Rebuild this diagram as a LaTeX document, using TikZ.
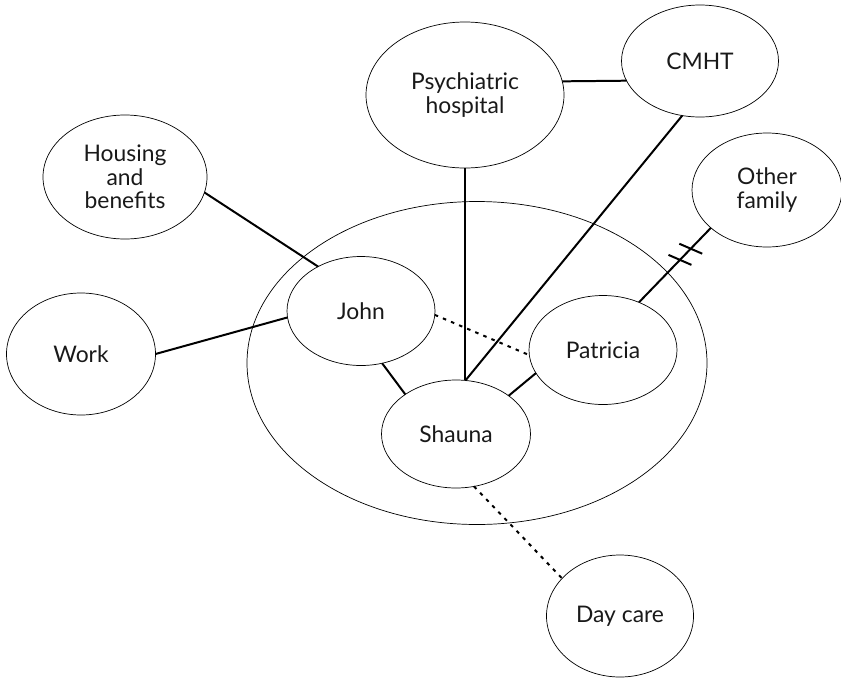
\documentclass[tikz,border=0pt]{standalone}
\usepackage{fontspec}
\setmainfont{Lato}
\usetikzlibrary{shapes.geometric}
\begin{document}
\begin{tikzpicture}[
  bubble/.style={draw,ellipse,line width=0.6pt,inner sep=0pt,outer sep=0pt,align=center,text=black!90,font=\fontsize{19.5}{20}\selectfont},
  tie/.style={line width=1.7pt},
  weak/.style={line width=1.7pt,dash pattern=on 3pt off 4.5pt}]
\useasboundingbox (0,0) rectangle (25.23,-20.37);
\node[bubble,minimum width=13.80cm,minimum height=9.69cm] (family) at (14.31,-10.89) {};
\node[bubble,minimum width=5.94cm,minimum height=4.38cm] (psych) at (13.95,-2.85) {Psychiatric\\hospital};
\node[bubble,minimum width=4.71cm,minimum height=3.36cm] (cmht) at (21.00,-1.83) {CMHT};
\node[bubble,minimum width=4.92cm,minimum height=3.72cm] (housing) at (3.75,-5.31) {Housing\\and\\benefits};
\node[bubble,minimum width=4.50cm,minimum height=3.42cm] (other) at (23.01,-5.70) {Other\\family};
\node[bubble,minimum width=4.44cm,minimum height=3.27cm] (john) at (10.83,-9.33) {John};
\node[bubble,minimum width=4.47cm,minimum height=3.66cm] (work) at (2.43,-10.62) {Work};
\node[bubble,minimum width=4.44cm,minimum height=3.27cm] (patricia) at (18.09,-10.50) {Patricia};
\node[bubble,minimum width=4.47cm,minimum height=3.24cm] (shauna) at (13.68,-13.02) {Shauna};
\node[bubble,minimum width=4.41cm,minimum height=3.66cm] (daycare) at (18.60,-18.48) {Day care};
\draw[tie] (psych.8) -- (cmht.195);
\draw[tie] (housing.-11) -- (john.134);
\draw[tie] (work.0) -- (john.185);
\draw[tie] (john.-68) -- (shauna.142);
\draw[tie] (patricia.199) -- (shauna.36);
\draw[tie] (shauna.80) -- (shauna.80 |- psych.south);
\draw[tie] (shauna.80) -- (cmht.-108);
\draw[tie] (patricia.53) -- (other.214);
\draw[weak] (john.-3) -- (patricia.184);
\draw[weak] (shauna.-71) -- (daycare.147);
\path (patricia.53) -- (other.214) coordinate[pos=0.57] (cut1) coordinate[pos=0.72] (cut2);
\foreach \c in {cut1,cut2}
  \draw[tie] ([shift={(156.5:0.375)}]\c) -- ([shift={(-23.5:0.375)}]\c);
\end{tikzpicture}
\end{document}
